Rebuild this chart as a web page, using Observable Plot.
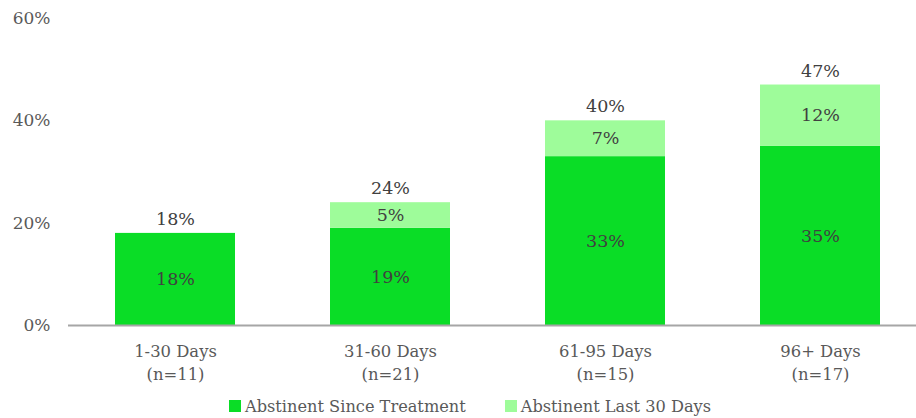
<!DOCTYPE html>
<html>
<head>
<meta charset="utf-8">
<script src="https://cdn.jsdelivr.net/npm/d3@7"></script>
<script src="https://cdn.jsdelivr.net/npm/@observablehq/plot@0.6"></script>
<style>
  html, body { margin: 0; padding: 0; background: #fff; }
  #chart { width: 916px; }
  .legend { display: flex; height: 26px; align-items: center; font-family: "DejaVu Serif", serif; font-size: 16.2px; color: #595959; padding-left: 229px; margin-top: 1px; }
  .legend .item { display: flex; align-items: center; margin-right: 39px; }
  .legend .sw { width: 12px; height: 12px; margin-right: 4px; }
</style>
</head>
<body>
<div id="chart"></div>
<script>
const categories = ["1-30 Days", "31-60 Days", "61-95 Days", "96+ Days"];
const sampleSizes = ["(n=11)", "(n=21)", "(n=15)", "(n=17)"];
const sinceTreatment = [18, 19, 33, 35];
const last30Days = [0, 5, 7, 12];
const totals = [18, 24, 40, 47];
const seriesNames = ["Abstinent Since Treatment", "Abstinent Last 30 Days"];
const seriesColors = ["#0ADD26", "#9EFC9A"];
const yTicks = [0, 20, 40, 60];

const rows = [];
categories.forEach((c, i) => {
  rows.push({cat: c, series: seriesNames[0], value: sinceTreatment[i], y1: 0, y2: sinceTreatment[i]});
  rows.push({cat: c, series: seriesNames[1], value: last30Days[i], y1: sinceTreatment[i], y2: sinceTreatment[i] + last30Days[i]});
});
const labeled = rows.filter(d => d.value > 0);
const totalRows = categories.map((c, i) => ({cat: c, total: totals[i]}));

const plot = Plot.plot({
  width: 916,
  height: 392,
  marginLeft: 68,
  marginRight: 0,
  marginTop: 18,
  marginBottom: 67,
  style: {fontFamily: "DejaVu Serif, serif", fontSize: "16px", color: "#595959", background: "#fff"},
  x: {domain: categories, range: [68, 928], paddingInner: 0.44, paddingOuter: 0.22, axis: null},
  y: {domain: [0, 60], axis: null},
  color: {domain: seriesNames, range: seriesColors},
  marks: [
    Plot.axisY({ticks: yTicks, tickSize: 0, tickPadding: 18, tickFormat: d => d + "%", label: null, fontSize: 17}),
    Plot.rectY(rows, {x: "cat", y1: "y1", y2: "y2", fill: "series"}),
    Plot.ruleY([0], {stroke: "#A6A6A6", strokeWidth: 2}),
    Plot.text(labeled, {x: "cat", y: d => (d.y1 + d.y2) / 2, text: d => d.value + "%", fill: "#404040", fontSize: 17.5}),
    Plot.text(totalRows, {x: "cat", y: "total", dy: -14, text: d => d.total + "%", fill: "#404040", fontSize: 17.5}),
    Plot.text(categories, {x: d => d, frameAnchor: "bottom", dy: 15, lineAnchor: "top", lineHeight: 1.4, text: (d, i) => d + "\n" + sampleSizes[i], fill: "#595959", fontSize: 16.4})
  ]
});
document.getElementById("chart").appendChild(plot);

const legend = document.createElement("div");
legend.className = "legend";
seriesNames.forEach((s, i) => {
  const item = document.createElement("div");
  item.className = "item";
  const sw = document.createElement("span");
  sw.className = "sw";
  sw.style.background = seriesColors[i];
  const t = document.createElement("span");
  t.textContent = s;
  item.appendChild(sw);
  item.appendChild(t);
  legend.appendChild(item);
});
document.getElementById("chart").appendChild(legend);
</script>
</body>
</html>
